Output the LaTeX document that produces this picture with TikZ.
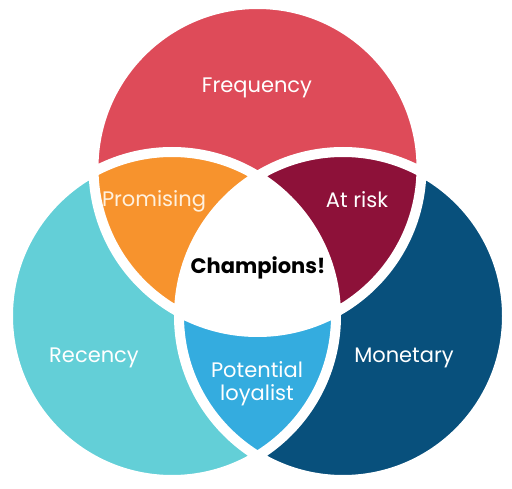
\documentclass[tikz,border=0pt]{standalone}
\usepackage{fontspec}
\setmainfont{Poppins}

\definecolor{freqred}{HTML}{DE4B59}
\definecolor{promorange}{HTML}{F7932D}
\definecolor{promtext}{HTML}{FFF1DE}
\definecolor{riskred}{HTML}{8D1139}
\definecolor{recencycyan}{HTML}{63CFD7}
\definecolor{monetnavy}{HTML}{08507C}
\definecolor{loyalblue}{HTML}{34ACDF}

\def\circF{(257.5,168) circle[radius=164]}
\def\circR{(172,316) circle[radius=164]}
\def\circM{(343,316) circle[radius=164]}

\begin{document}
\begin{tikzpicture}[x=1pt,y=-1pt,
  lbl/.style={text=white, font=\fontsize{21}{23}\selectfont, align=center},
  champ/.style={text=black, font=\fontsize{21}{23}\selectfont\bfseries}]
\useasboundingbox (0,0) rectangle (512,489);
% the three sets
\fill[freqred] \circF;
\fill[recencycyan] \circR;
\fill[monetnavy] \circM;
% pairwise overlaps
\begin{scope}
\clip \circF;
\fill[promorange] \circR;
\fill[riskred] \circM;
\end{scope}
\begin{scope}
\clip \circR;
\fill[loyalblue] \circM;
\end{scope}
% centre, all three
\begin{scope}
\clip \circF;
\clip \circR;
\fill[white] \circM;
\end{scope}
% white gaps between the parts
\draw[white, line width=10pt] \circF \circR \circM;
% labels
\node[lbl] (freq) at (257,88) {Frequency};
\node[lbl, text=promtext] (prom) at (154,201) {Promising};
\node[lbl] (risk) at (357,200) {At risk};
\node[champ] (champ) at (258,268) {Champions!};
\node[lbl] (rec) at (94,358) {Recency};
\node[lbl] (mon) at (404,358) {Monetary};
\node[lbl] (loyal) at (257,384) {Potential\\loyalist};
\end{tikzpicture}
\end{document}
